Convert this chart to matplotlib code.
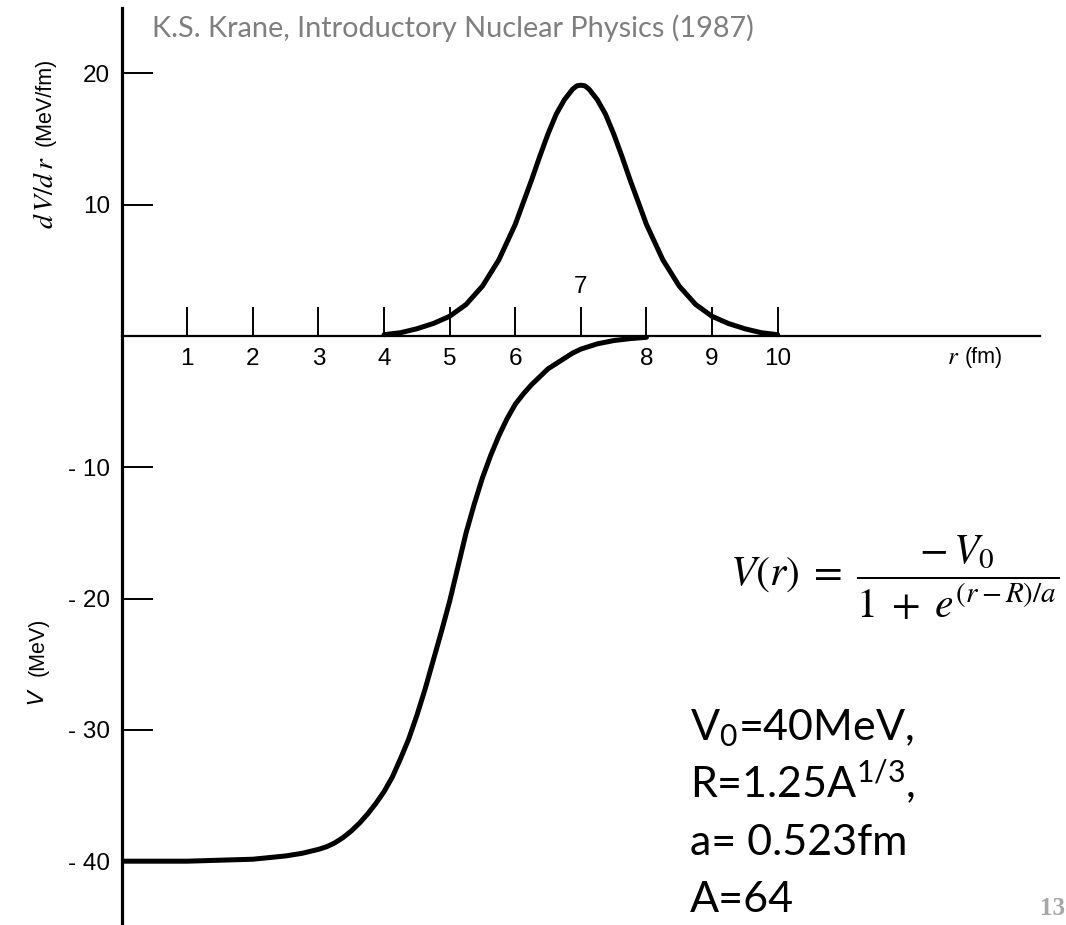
import numpy as np
import matplotlib.pyplot as plt

plt.rcParams['mathtext.fontset'] = 'custom'
plt.rcParams['mathtext.rm'] = 'Lato'
plt.rcParams['mathtext.it'] = 'Lato:italic'

# potential V(r) in MeV
v_r = [0, 1, 2, 2.5, 2.75, 3, 3.125, 3.25, 3.375, 3.5, 3.625, 3.75, 3.875,
       4, 4.125, 4.25, 4.375, 4.5, 4.625, 4.75, 4.875, 5, 5.125, 5.25,
       5.375, 5.5, 5.625, 5.75, 5.875, 6, 6.125, 6.25, 6.375, 6.5, 6.625,
       6.75, 6.875, 7, 7.25, 7.5, 7.75, 8]
v_mev = [-40.0, -40.0, -39.85, -39.6, -39.4, -39.1, -38.9, -38.6, -38.2,
         -37.7, -37.1, -36.4, -35.6, -34.7, -33.6, -32.2, -30.7, -28.9,
         -26.9, -24.7, -22.5, -20.2, -17.6, -15.0, -12.8, -10.8, -9.1, -7.6,
         -6.3, -5.2, -4.4, -3.7, -3.1, -2.5, -2.1, -1.7, -1.3, -1.0, -0.6,
         -0.35, -0.2, -0.1]

# derivative dV/dr in MeV/fm
d_r = [4.0, 4.25, 4.5, 4.75, 5.0, 5.25, 5.5, 5.75, 6.0, 6.25, 6.375, 6.5,
       6.625, 6.75, 6.875, 6.9375, 7.0, 7.0625, 7.125, 7.25, 7.375, 7.5,
       7.625, 7.75, 8.0, 8.25, 8.5, 8.75, 9.0, 9.25, 9.5, 9.75, 10.0]
d_mev = [0.1, 0.25, 0.55, 0.95, 1.5, 2.4, 3.8, 5.8, 8.5, 11.9, 13.7, 15.4,
         16.9, 18.0, 18.8, 19.05, 19.1, 19.05, 18.8, 18.0, 16.9, 15.4,
         13.7, 11.9, 8.5, 5.8, 3.8, 2.4, 1.5, 0.95, 0.55, 0.25, 0.1]

r_ticks = [1, 2, 3, 4, 5, 6, 7, 8, 9, 10]
y_ticks = [20, 10, -10, -20, -30, -40]
y_labels = ['20', '10', '- 10', '- 20', '- 30', '- 40']

W, H = 1066, 925
def fx(px):
    return px / W
def fy(py):
    return 1 - py / H

fig = plt.figure(figsize=(W / 100, H / 100), dpi=100)
ax = fig.add_axes([fx(121.7), 0, (1040 - 121.7) / W, (925 - 8) / H])
ax.set_xlim(0, 14.0)
ax.set_ylim(-44.86, 24.98)

for s in ['top', 'right']:
    ax.spines[s].set_visible(False)
ax.spines['bottom'].set_position(('data', 0))
ax.spines['left'].set_linewidth(2.3)
ax.spines['bottom'].set_linewidth(1.6)

ax.set_xticks(r_ticks)
ax.set_xticklabels(['' if t == 7 else str(t) for t in r_ticks])
ax.set_yticks(y_ticks)
ax.set_yticklabels(y_labels)
ax.tick_params(axis='x', direction='in', length=21, width=1.4, pad=8.5,
               labelsize=17.5)
ax.tick_params(axis='y', direction='in', length=22, width=1.4, pad=8.5,
               labelsize=17.5)
for lab in ax.get_xticklabels() + ax.get_yticklabels():
    lab.set_family('Liberation Sans')
ax.text(7, 3.73, '7', ha='center', va='center', fontsize=17.5,
        family='Liberation Sans')

# the two curves
ax.plot(v_r, v_mev, color='black', lw=3.6, solid_capstyle='round',
        solid_joinstyle='round', zorder=3)
ax.plot(d_r, d_mev, color='black', lw=3.6, solid_capstyle='round',
        solid_joinstyle='round', zorder=3)

# axis labels
fig.text(fx(45), fy(193), r'$d\,V/d\,r$', rotation=90, ha='center',
         va='center', fontsize=20, math_fontfamily='stix')
fig.text(fx(45), fy(102), '(MeV/fm)', rotation=90, ha='center',
         va='center', fontsize=15.5, family='Liberation Sans')
fig.text(fx(38), fy(697), r'$V$', rotation=90, ha='center',
         va='center', fontsize=16, math_fontfamily='dejavusans')
fig.text(fx(38), fy(647), '(MeV)', rotation=90, ha='center',
         va='center', fontsize=15.5, family='Liberation Sans')
fig.text(fx(947), fy(357), r'$r$', ha='left', va='center',
         fontsize=18, math_fontfamily='stix')
fig.text(fx(965), fy(357), '(fm)', ha='left', va='center',
         fontsize=15.5, family='Liberation Sans')

# source line
fig.text(fx(152), fy(37), 'K.S. Krane, Introductory Nuclear Physics (1987)',
         color='#7f7f7f', fontsize=20.8, family='Lato', va='baseline')

# Woods-Saxon form
fig.text(fx(730), fy(578),
         r'$V(r)\;=\;\dfrac{-\,V_0}{1\;+\;e^{(r-R)/a}}$',
         fontsize=30, math_fontfamily='stix', ha='left', va='center')

# parameters
params = [r'V$_0$=40MeV,', r'R=1.25A$^{1/3}$,', 'a= 0.523fm', 'A=64']
for i, line in enumerate(params):
    fig.text(fx(690), fy(740 + 57.5 * i), line, fontsize=31, family='Lato',
             va='baseline', ha='left')

fig.text(fx(1040), fy(915), '13', color='#a6a6a6', fontsize=18,
         family='Liberation Serif', weight='bold', va='baseline')

fig.savefig('out.png', dpi=100)
